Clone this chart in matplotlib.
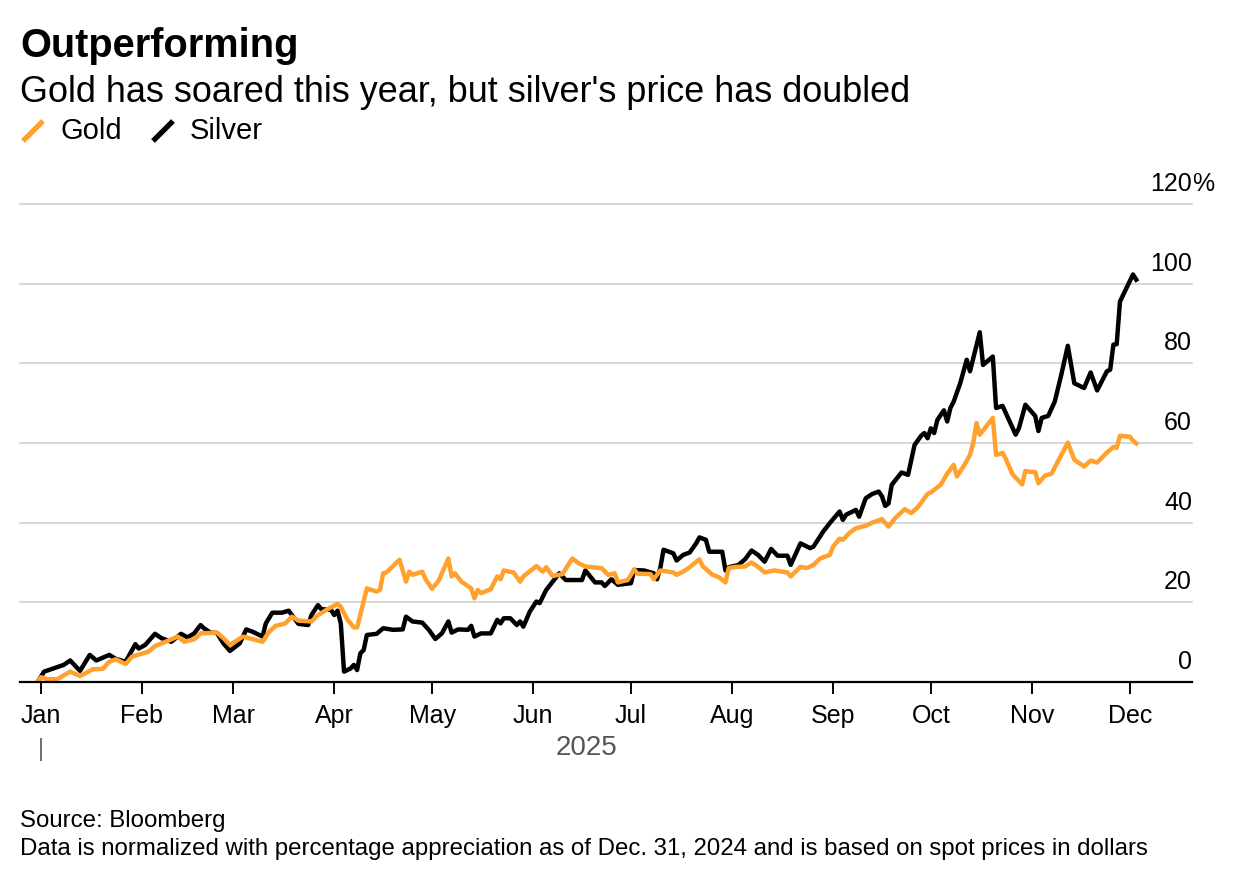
import matplotlib
matplotlib.use("Agg")
import matplotlib.pyplot as plt
import matplotlib.dates as mdates
from matplotlib.lines import Line2D
from matplotlib.transforms import ScaledTranslation
import numpy as np

plt.rcParams["font.family"] = ["Liberation Sans", "DejaVu Sans"]

# percentage change since Dec. 31, 2024
silver_dates = [
    "2024-12-31", "2025-01-02", "2025-01-08", "2025-01-10", "2025-01-13", "2025-01-16", "2025-01-18",
    "2025-01-22", "2025-01-24", "2025-01-27", "2025-01-30", "2025-01-31", "2025-02-02", "2025-02-05",
    "2025-02-07", "2025-02-10", "2025-02-13", "2025-02-15", "2025-02-17", "2025-02-19", "2025-02-20",
    "2025-02-22", "2025-02-24", "2025-02-26", "2025-02-28", "2025-03-03", "2025-03-05", "2025-03-07",
    "2025-03-10", "2025-03-11", "2025-03-13", "2025-03-16", "2025-03-18", "2025-03-21", "2025-03-24",
    "2025-03-25", "2025-03-27", "2025-03-28", "2025-03-31", "2025-04-01", "2025-04-02", "2025-04-03",
    "2025-04-04", "2025-04-06", "2025-04-07", "2025-04-08", "2025-04-09", "2025-04-10", "2025-04-11",
    "2025-04-14", "2025-04-16", "2025-04-19", "2025-04-22", "2025-04-23", "2025-04-25", "2025-04-28",
    "2025-04-30", "2025-05-02", "2025-05-04", "2025-05-06", "2025-05-07", "2025-05-09", "2025-05-12",
    "2025-05-13", "2025-05-14", "2025-05-16", "2025-05-19", "2025-05-21", "2025-05-22", "2025-05-23",
    "2025-05-25", "2025-05-27", "2025-05-28", "2025-05-29", "2025-05-31", "2025-06-02", "2025-06-03",
    "2025-06-05", "2025-06-07", "2025-06-09", "2025-06-11", "2025-06-16", "2025-06-17", "2025-06-20",
    "2025-06-22", "2025-06-23", "2025-06-25", "2025-06-27", "2025-07-01", "2025-07-02", "2025-07-05",
    "2025-07-08", "2025-07-09", "2025-07-10", "2025-07-11", "2025-07-14", "2025-07-15", "2025-07-17",
    "2025-07-19", "2025-07-21", "2025-07-22", "2025-07-24", "2025-07-25", "2025-07-29", "2025-07-30",
    "2025-07-31", "2025-08-03", "2025-08-05", "2025-08-07", "2025-08-09", "2025-08-11", "2025-08-13",
    "2025-08-15", "2025-08-18", "2025-08-19", "2025-08-22", "2025-08-25", "2025-08-26", "2025-08-29",
    "2025-08-31", "2025-09-03", "2025-09-04", "2025-09-05", "2025-09-08", "2025-09-09", "2025-09-11",
    "2025-09-13", "2025-09-15", "2025-09-16", "2025-09-17", "2025-09-18", "2025-09-19", "2025-09-22",
    "2025-09-24", "2025-09-26", "2025-09-28", "2025-09-29", "2025-09-30", "2025-10-01", "2025-10-02",
    "2025-10-03", "2025-10-05", "2025-10-06", "2025-10-07", "2025-10-08", "2025-10-10", "2025-10-12",
    "2025-10-13", "2025-10-16", "2025-10-17", "2025-10-20", "2025-10-21", "2025-10-23", "2025-10-24",
    "2025-10-27", "2025-10-28", "2025-10-30", "2025-11-02", "2025-11-03", "2025-11-04", "2025-11-06",
    "2025-11-08", "2025-11-10", "2025-11-12", "2025-11-14", "2025-11-17", "2025-11-19", "2025-11-21",
    "2025-11-24", "2025-11-25", "2025-11-26", "2025-11-27", "2025-11-28", "2025-11-30", "2025-12-02",
    "2025-12-03",
]
silver_values = [
    0, 2.6, 4.3, 5.4, 2.8, 6.8, 5.4,
    6.8, 5.8, 5.1, 9.5, 8.4, 9.3, 12.1,
    11.0, 10.1, 12.1, 11.2, 12.2, 14.3, 13.5,
    12.4, 12.3, 9.7, 7.8, 9.7, 13.2, 12.6,
    11.4, 14.7, 17.4, 17.4, 17.9, 14.6, 14.3,
    16.8, 19.3, 18.3, 18.1, 16.8, 17.9, 14.7,
    2.6, 3.4, 4.3, 3.0, 7.2, 8.0, 11.8,
    12.1, 13.5, 13.1, 13.2, 16.4, 15.2, 14.9,
    13.1, 10.8, 12.2, 15.2, 12.4, 13.2, 13.1,
    14.1, 11.4, 12.2, 12.2, 15.6, 14.7, 16.0,
    16.0, 14.3, 15.2, 13.9, 17.7, 20.2, 19.8,
    23.1, 25.2, 27.3, 25.6, 25.6, 28.0, 25.0,
    25.0, 24.1, 25.8, 24.4, 24.8, 28.1, 28.0,
    27.3, 25.8, 28.6, 33.2, 32.3, 30.5, 31.9,
    32.5, 34.8, 36.3, 35.7, 32.7, 32.7, 28.0,
    28.8, 29.4, 30.8, 33.0, 31.9, 30.2, 33.4,
    31.7, 31.7, 29.4, 34.8, 33.6, 34.0, 37.8,
    39.9, 42.8, 40.7, 42.0, 43.2, 41.5, 46.1,
    47.2, 47.8, 46.6, 44.2, 44.8, 49.5, 52.6,
    52.0, 59.5, 61.8, 62.5, 61.2, 63.7, 62.5,
    65.8, 68.2, 65.4, 68.8, 70.4, 75.0, 80.9,
    78.0, 87.8, 79.6, 81.7, 68.8, 69.3, 67.5,
    62.1, 63.7, 69.6, 66.8, 63.0, 66.3, 66.8,
    70.4, 77.1, 84.4, 75.0, 73.8, 77.7, 73.2,
    78.0, 78.4, 84.7, 84.8, 95.5, 98.9, 102.3,
    101.0,
]

gold_dates = [
    "2024-12-31", "2025-01-01", "2025-01-03", "2025-01-06", "2025-01-10", "2025-01-13", "2025-01-17",
    "2025-01-20", "2025-01-22", "2025-01-24", "2025-01-27", "2025-01-29", "2025-02-03", "2025-02-05",
    "2025-02-07", "2025-02-10", "2025-02-12", "2025-02-14", "2025-02-17", "2025-02-19", "2025-02-24",
    "2025-02-26", "2025-02-28", "2025-03-04", "2025-03-10", "2025-03-12", "2025-03-14", "2025-03-17",
    "2025-03-19", "2025-03-21", "2025-03-25", "2025-03-27", "2025-03-30", "2025-04-02", "2025-04-03",
    "2025-04-05", "2025-04-07", "2025-04-08", "2025-04-11", "2025-04-14", "2025-04-15", "2025-04-16",
    "2025-04-17", "2025-04-21", "2025-04-23", "2025-04-24", "2025-04-25", "2025-04-28", "2025-04-29",
    "2025-05-01", "2025-05-03", "2025-05-06", "2025-05-07", "2025-05-08", "2025-05-10", "2025-05-13",
    "2025-05-14", "2025-05-15", "2025-05-16", "2025-05-19", "2025-05-21", "2025-05-22", "2025-05-23",
    "2025-05-26", "2025-05-28", "2025-05-29", "2025-06-02", "2025-06-04", "2025-06-05", "2025-06-07",
    "2025-06-10", "2025-06-13", "2025-06-15", "2025-06-17", "2025-06-22", "2025-06-24", "2025-06-26",
    "2025-06-27", "2025-06-30", "2025-07-01", "2025-07-02", "2025-07-03", "2025-07-07", "2025-07-08",
    "2025-07-10", "2025-07-14", "2025-07-15", "2025-07-17", "2025-07-19", "2025-07-22", "2025-07-23",
    "2025-07-26", "2025-07-28", "2025-07-30", "2025-07-31", "2025-08-02", "2025-08-05", "2025-08-07",
    "2025-08-09", "2025-08-11", "2025-08-14", "2025-08-18", "2025-08-19", "2025-08-22", "2025-08-24",
    "2025-08-26", "2025-08-28", "2025-08-31", "2025-09-01", "2025-09-03", "2025-09-04", "2025-09-06",
    "2025-09-08", "2025-09-11", "2025-09-13", "2025-09-16", "2025-09-18", "2025-09-20", "2025-09-23",
    "2025-09-25", "2025-09-27", "2025-09-30", "2025-10-01", "2025-10-04", "2025-10-06", "2025-10-08",
    "2025-10-09", "2025-10-11", "2025-10-13", "2025-10-14", "2025-10-15", "2025-10-16", "2025-10-20",
    "2025-10-21", "2025-10-23", "2025-10-24", "2025-10-26", "2025-10-29", "2025-10-30", "2025-10-31",
    "2025-11-02", "2025-11-03", "2025-11-05", "2025-11-07", "2025-11-10", "2025-11-12", "2025-11-14",
    "2025-11-17", "2025-11-19", "2025-11-21", "2025-11-24", "2025-11-26", "2025-11-27", "2025-11-28",
    "2025-12-01", "2025-12-02", "2025-12-03",
]
gold_values = [
    0, 1.2, 0.7, 0.7, 2.6, 1.5, 3.2,
    3.3, 5.1, 5.7, 4.5, 6.4, 7.6, 9.0,
    9.7, 10.7, 11.4, 10.1, 10.7, 12.2, 12.4,
    11.0, 9.3, 11.4, 10.1, 12.6, 14.1, 14.7,
    16.4, 15.4, 15.2, 16.8, 18.3, 19.6, 18.9,
    15.7, 13.7, 13.7, 23.5, 22.7, 23.1, 27.3,
    27.5, 30.7, 25.2, 27.7, 26.9, 27.7, 25.8,
    23.4, 25.4, 31.0, 26.5, 27.3, 25.2, 23.5,
    21.0, 23.1, 22.3, 23.3, 26.5, 25.8, 28.0,
    27.5, 25.2, 26.5, 29.1, 27.7, 28.8, 26.6,
    27.1, 31.0, 29.8, 29.0, 28.6, 26.9, 27.3,
    25.0, 25.6, 26.9, 28.3, 27.2, 27.1, 25.8,
    28.0, 27.5, 26.9, 27.7, 28.8, 30.8, 29.1,
    26.9, 26.3, 25.0, 28.6, 28.9, 29.0, 30.0,
    28.9, 27.5, 28.0, 27.5, 26.5, 28.9, 28.6,
    29.4, 31.0, 31.9, 34.0, 36.0, 35.7, 37.4,
    38.6, 39.2, 40.0, 40.9, 39.0, 41.1, 43.4,
    42.4, 43.9, 47.2, 47.6, 49.5, 52.3, 54.5,
    51.6, 54.1, 57.0, 60.0, 65.0, 62.1, 66.3,
    57.0, 57.5, 56.0, 52.2, 49.6, 53.0, 52.8,
    52.7, 49.9, 51.8, 52.3, 57.0, 60.1, 55.8,
    54.1, 55.6, 55.1, 57.6, 59.0, 58.8, 61.8,
    61.6, 60.6, 59.9,
]

y_ticks = [0, 20, 40, 60, 80, 100, 120]
month_labels = ["Jan", "Feb", "Mar", "Apr", "May", "Jun", "Jul", "Aug", "Sep", "Oct", "Nov", "Dec"]

GOLD = "#FFA12C"
W, H = 1236, 880

gold_x = mdates.datestr2num(gold_dates)
silver_x = mdates.datestr2num(silver_dates)
jan1 = mdates.datestr2num("2025-01-01")

fig = plt.figure(figsize=(W / 100, H / 100), dpi=100)
ax = fig.add_axes([20 / W, 1 - 682 / H, 1172 / W, 478 / H])

ax.plot(silver_x, silver_values, color="black", lw=3.2, solid_joinstyle="round", zorder=3)
ax.plot(gold_x, gold_values, color=GOLD, lw=3.2, solid_joinstyle="round", zorder=4)

ax.set_xlim(jan1 - 6.4, jan1 + 353.1)
ax.set_ylim(0, 120)

for s in ["top", "left", "right"]:
    ax.spines[s].set_visible(False)
ax.spines["bottom"].set_linewidth(1.6)
ax.spines["bottom"].set_color("black")
ax.spines["bottom"].set_zorder(5)

# y axis: labels sit above gridlines, right-aligned at grid end
ax.yaxis.tick_right()
ax.set_yticks(y_ticks)
ax.set_yticklabels([str(v) for v in y_ticks])
ax.tick_params(axis="y", length=0, pad=0, labelsize=18, labelcolor="black")
off = ScaledTranslation(0, 13 / 100, fig.dpi_scale_trans)
for lab in ax.get_yticklabels():
    lab.set_horizontalalignment("right")
    lab.set_verticalalignment("baseline")
    lab.set_transform(lab.get_transform() + off)
ax.text(1.0, 120, "%", transform=ax.get_yaxis_transform() + off, ha="left", va="baseline",
        fontsize=18, color="black")
ax.yaxis.grid(True, color="#cccccc", lw=1.1)
for gl in ax.get_ygridlines():
    gl.set_clip_on(False)
ax.set_axisbelow(True)

# x axis
month_starts = mdates.datestr2num(["2025-%02d-01" % m for m in range(1, 13)])
ax.set_xticks(month_starts)
ax.set_xticklabels(month_labels)
ax.tick_params(axis="x", length=8.6, width=1.4, color="black", pad=7.5, labelsize=18, labelcolor="black")

# year marker
ax.vlines(jan1, -0.117, -0.165, transform=ax.get_xaxis_transform(), color="#555555", lw=1.2, clip_on=False)
ax.text((gold_x[0] + gold_x[-1]) / 2, -0.153, "2025", transform=ax.get_xaxis_transform(),
        ha="center", va="baseline", fontsize=20, color="#555555")

# title, subtitle, legend
fig.text(20 / W, 1 - 57 / H, "Outperforming", fontsize=28.6, fontweight="bold", va="baseline")
fig.text(20 / W, 1 - 102 / H, "Gold has soared this year, but silver's price has doubled", fontsize=25.95,
         va="baseline")
fig.add_artist(Line2D([23 / W, 43 / W], [1 - 141 / H, 1 - 121 / H], color=GOLD, lw=3.8, solid_capstyle="butt"))
fig.add_artist(Line2D([153 / W, 173 / W], [1 - 141 / H, 1 - 121 / H], color="black", lw=3.8, solid_capstyle="butt"))
fig.text(60 / W, 1 - 139 / H, "Gold", fontsize=21, va="baseline")
fig.text(190 / W, 1 - 139 / H, "Silver", fontsize=21, va="baseline")

# footer
fig.text(20 / W, 1 - 827 / H, "Source: Bloomberg", fontsize=17.25, va="baseline")
fig.text(20 / W, 1 - 855 / H,
         "Data is normalized with percentage appreciation as of Dec. 31, 2024 and is based on spot prices in dollars",
         fontsize=17.25, va="baseline")

fig.savefig("out.png", dpi=100, facecolor="white")
